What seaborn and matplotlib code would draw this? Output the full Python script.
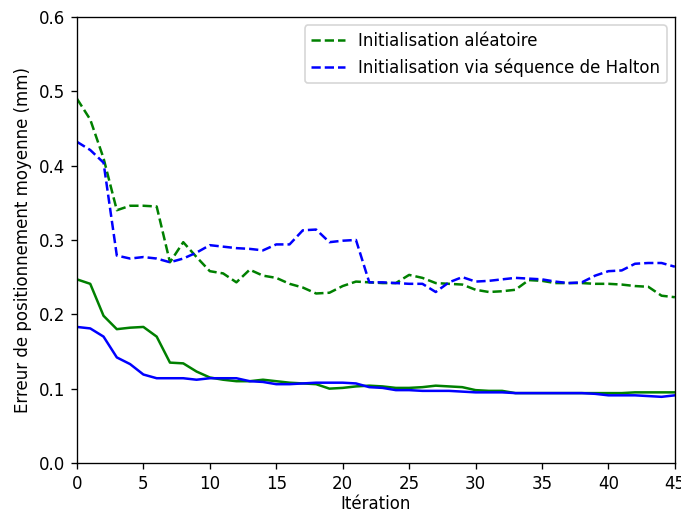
import numpy as np
import seaborn as sns
import matplotlib
matplotlib.use("Agg")
import matplotlib.pyplot as plt

# Données
iterations = np.arange(0, 46)

alea_dashed = [0.490, 0.462, 0.410, 0.340, 0.346, 0.346, 0.345, 0.270, 0.297, 0.277,
               0.258, 0.255, 0.243, 0.260, 0.252, 0.249, 0.241, 0.236, 0.228, 0.229,
               0.238, 0.244, 0.243, 0.242, 0.242, 0.253, 0.249, 0.242, 0.241, 0.240,
               0.233, 0.230, 0.231, 0.233, 0.246, 0.245, 0.242, 0.242, 0.242, 0.241,
               0.241, 0.240, 0.238, 0.237, 0.225, 0.223]

halton_dashed = [0.432, 0.421, 0.404, 0.279, 0.275, 0.277, 0.275, 0.270, 0.275, 0.283,
                 0.293, 0.291, 0.289, 0.288, 0.286, 0.294, 0.294, 0.313, 0.314, 0.297,
                 0.299, 0.300, 0.243, 0.243, 0.242, 0.241, 0.241, 0.230, 0.243, 0.250,
                 0.244, 0.245, 0.247, 0.249, 0.248, 0.247, 0.244, 0.242, 0.243, 0.252,
                 0.258, 0.259, 0.268, 0.269, 0.269, 0.264]

alea_solid = [0.247, 0.241, 0.198, 0.180, 0.182, 0.183, 0.170, 0.135, 0.134, 0.123,
              0.115, 0.112, 0.110, 0.110, 0.112, 0.110, 0.108, 0.107, 0.106, 0.100,
              0.101, 0.103, 0.104, 0.103, 0.101, 0.101, 0.102, 0.104, 0.103, 0.102,
              0.098, 0.097, 0.097, 0.094, 0.094, 0.094, 0.094, 0.094, 0.094, 0.094,
              0.094, 0.094, 0.095, 0.095, 0.095, 0.095]

halton_solid = [0.183, 0.181, 0.170, 0.142, 0.133, 0.119, 0.114, 0.114, 0.114, 0.112,
                0.114, 0.114, 0.114, 0.110, 0.109, 0.106, 0.106, 0.107, 0.108, 0.108,
                0.108, 0.107, 0.102, 0.101, 0.098, 0.098, 0.097, 0.097, 0.097, 0.096,
                0.095, 0.095, 0.095, 0.094, 0.094, 0.094, 0.094, 0.094, 0.094, 0.093,
                0.091, 0.091, 0.091, 0.090, 0.089, 0.091]

fig, ax = plt.subplots(figsize=(681 / 120, 513 / 120), dpi=120)

sns.lineplot(x=iterations, y=alea_dashed, color='g', linestyle='--', linewidth=1.5,
             label="Initialisation aléatoire", ax=ax)
sns.lineplot(x=iterations, y=halton_dashed, color='b', linestyle='--', linewidth=1.5,
             label="Initialisation via séquence de Halton", ax=ax)
sns.lineplot(x=iterations, y=alea_solid, color='g', linewidth=1.5, ax=ax)
sns.lineplot(x=iterations, y=halton_solid, color='b', linewidth=1.5, ax=ax)

ax.set_xlim(0, 45)
ax.set_ylim(0, 0.6)
ax.set_xlabel("Itération", labelpad=1.5)
ax.set_ylabel("Erreur de positionnement moyenne (mm)")
ax.legend(loc='upper right')

plt.subplots_adjust(left=0.113, right=0.991, top=0.967, bottom=0.0975)
plt.savefig("out.png", dpi=120)
